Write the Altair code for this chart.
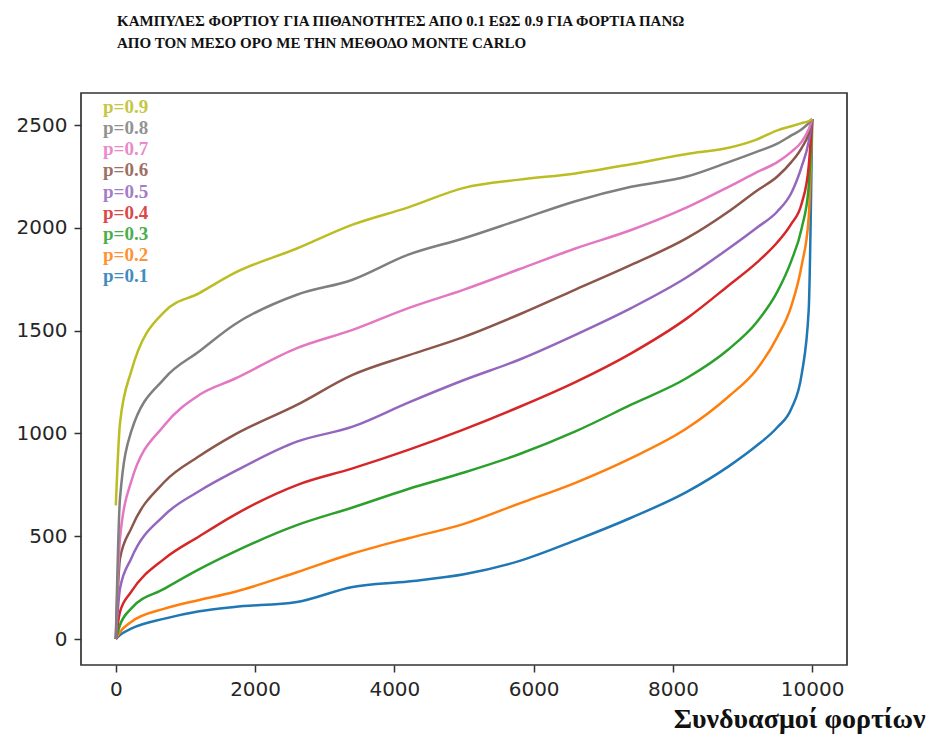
import altair as alt
import pandas as pd

x_vals = [0, 60, 220, 700, 1200, 1700, 2600, 3400, 4200, 5000, 5800, 6600, 7400,
          8200, 8800, 9200, 9500, 9700, 9850, 9950, 10000]

series_names = ["p=0.1", "p=0.2", "p=0.3", "p=0.4", "p=0.5", "p=0.6", "p=0.7", "p=0.8", "p=0.9"]
colors = ["#1f77b4", "#ff7f0e", "#2ca02c", "#d62728", "#9467bd", "#8c564b", "#e377c2", "#7f7f7f", "#bcbd22"]

p01 = [0, 19, 50, 99, 135, 156, 180, 253, 280, 315, 380, 480, 590, 716, 840, 940, 1030, 1120, 1290, 1600, 2530]
p02 = [0, 34, 83, 148, 190, 229, 325, 416, 490, 560, 660, 760, 880, 1025, 1180, 1310, 1470, 1620, 1820, 2050, 2530]
p03 = [0, 68, 148, 245, 340, 424, 554, 640, 730, 810, 900, 1010, 1140, 1270, 1410, 1540, 1690, 1840, 2000, 2200, 2530]
p04 = [0, 132, 229, 391, 500, 603, 749, 830, 920, 1020, 1130, 1250, 1390, 1560, 1720, 1830, 1930, 2020, 2120, 2300, 2530]
p05 = [0, 245, 391, 603, 720, 814, 960, 1033, 1150, 1260, 1360, 1480, 1610, 1760, 1900, 2000, 2080, 2170, 2300, 2420, 2530]
p06 = [0, 391, 537, 765, 890, 993, 1139, 1285, 1380, 1470, 1580, 1700, 1820, 1950, 2080, 2180, 2250, 2320, 2390, 2460, 2530]
p07 = [0, 489, 765, 1041, 1188, 1265, 1415, 1504, 1610, 1700, 1800, 1900, 1990, 2100, 2200, 2270, 2320, 2370, 2420, 2480, 2530]
p08 = [0, 684, 1009, 1268, 1400, 1529, 1675, 1748, 1870, 1950, 2040, 2130, 2200, 2250, 2320, 2370, 2410, 2450, 2480, 2510, 2530]
p09 = [650, 1050, 1301, 1593, 1683, 1780, 1900, 2016, 2100, 2195, 2235, 2265, 2310, 2360, 2390, 2430, 2475, 2495, 2510, 2520, 2530]

all_series = [p01, p02, p03, p04, p05, p06, p07, p08, p09]

x_ticks = [0, 2000, 4000, 6000, 8000, 10000]
y_ticks = [0, 500, 1000, 1500, 2000, 2500]

title_lines = ["ΚΑΜΠΥΛΕΣ ΦΟΡΤΙΟΥ ΓΙΑ ΠΙΘΑΝΟΤΗΤΕΣ ΑΠΟ 0.1 ΕΩΣ 0.9 ΓΙΑ ΦΟΡΤΙΑ ΠΑΝΩ",
               "ΑΠΟ ΤΟΝ ΜΕΣΟ ΟΡΟ ΜΕ ΤΗΝ ΜΕΘΟΔΟ MONTE CARLO"]
x_title = "Συνδυασμοί φορτίων"

rows = []
for name, vals in zip(series_names, all_series):
    for i, (xv, yv) in enumerate(zip(x_vals, vals)):
        rows.append({"series": name, "x": xv, "y": yv, "order": i})
df = pd.DataFrame(rows)

label_df = pd.DataFrame({"series": series_names})
label_order = list(reversed(series_names))

color_scale = alt.Scale(domain=series_names, range=colors)

lines = alt.Chart(df).mark_line(strokeWidth=2.5, interpolate="monotone").encode(
    x=alt.X("x:Q", scale=alt.Scale(domain=[-500, 10500], nice=False, zero=False),
            axis=alt.Axis(values=x_ticks, title=x_title, grid=False, domain=False,
                          tickSize=7, tickWidth=1.5, tickColor="#333333",
                          labelPadding=7, labelFont="DejaVu Sans", labelFontSize=20,
                          labelColor="#262626", format="d",
                          titleFont="Liberation Serif", titleFontWeight="bold",
                          titleFontSize=28, titleColor="#111111",
                          titleX=844, titleY=62, titleAlign="right",
                          titleBaseline="alphabetic")),
    y=alt.Y("y:Q", scale=alt.Scale(domain=[-126.5, 2656.5], nice=False, zero=False),
            axis=alt.Axis(values=y_ticks, title=None, grid=False, domain=False,
                          tickSize=7, tickWidth=1.5, tickColor="#333333",
                          labelPadding=7, labelFont="DejaVu Sans", labelFontSize=20,
                          labelColor="#262626", format="d")),
    color=alt.Color("series:N", scale=color_scale, legend=None),
    order="order:Q",
    detail="series:N",
)

labels = alt.Chart(label_df).mark_text(
    align="left", baseline="middle", font="Liberation Serif", fontWeight="bold",
    fontSize=19, opacity=0.85
).encode(
    x=alt.value(22),
    y=alt.Y("series:N", scale=alt.Scale(type="point", domain=label_order, range=[14, 183], padding=0),
            axis=None),
    text="series:N",
    color=alt.Color("series:N", scale=color_scale, legend=None),
)

chart = alt.layer(lines, labels).resolve_scale(y="independent").properties(
    width=766, height=572,
    padding={"left": 81, "top": 93, "right": 84, "bottom": 73},
    autosize=alt.AutoSizeParams(type="none"),
    background="white",
    title=alt.TitleParams(text=title_lines, anchor="start", frame="group", dx=36, offset=42,
                          font="Liberation Serif", fontWeight="bold", fontSize=15,
                          color="#111111", lineHeight=22),
).configure_view(stroke="#333333", strokeWidth=1.7)

chart.save("out.html", embed_options={"renderer": "svg", "actions": False})
